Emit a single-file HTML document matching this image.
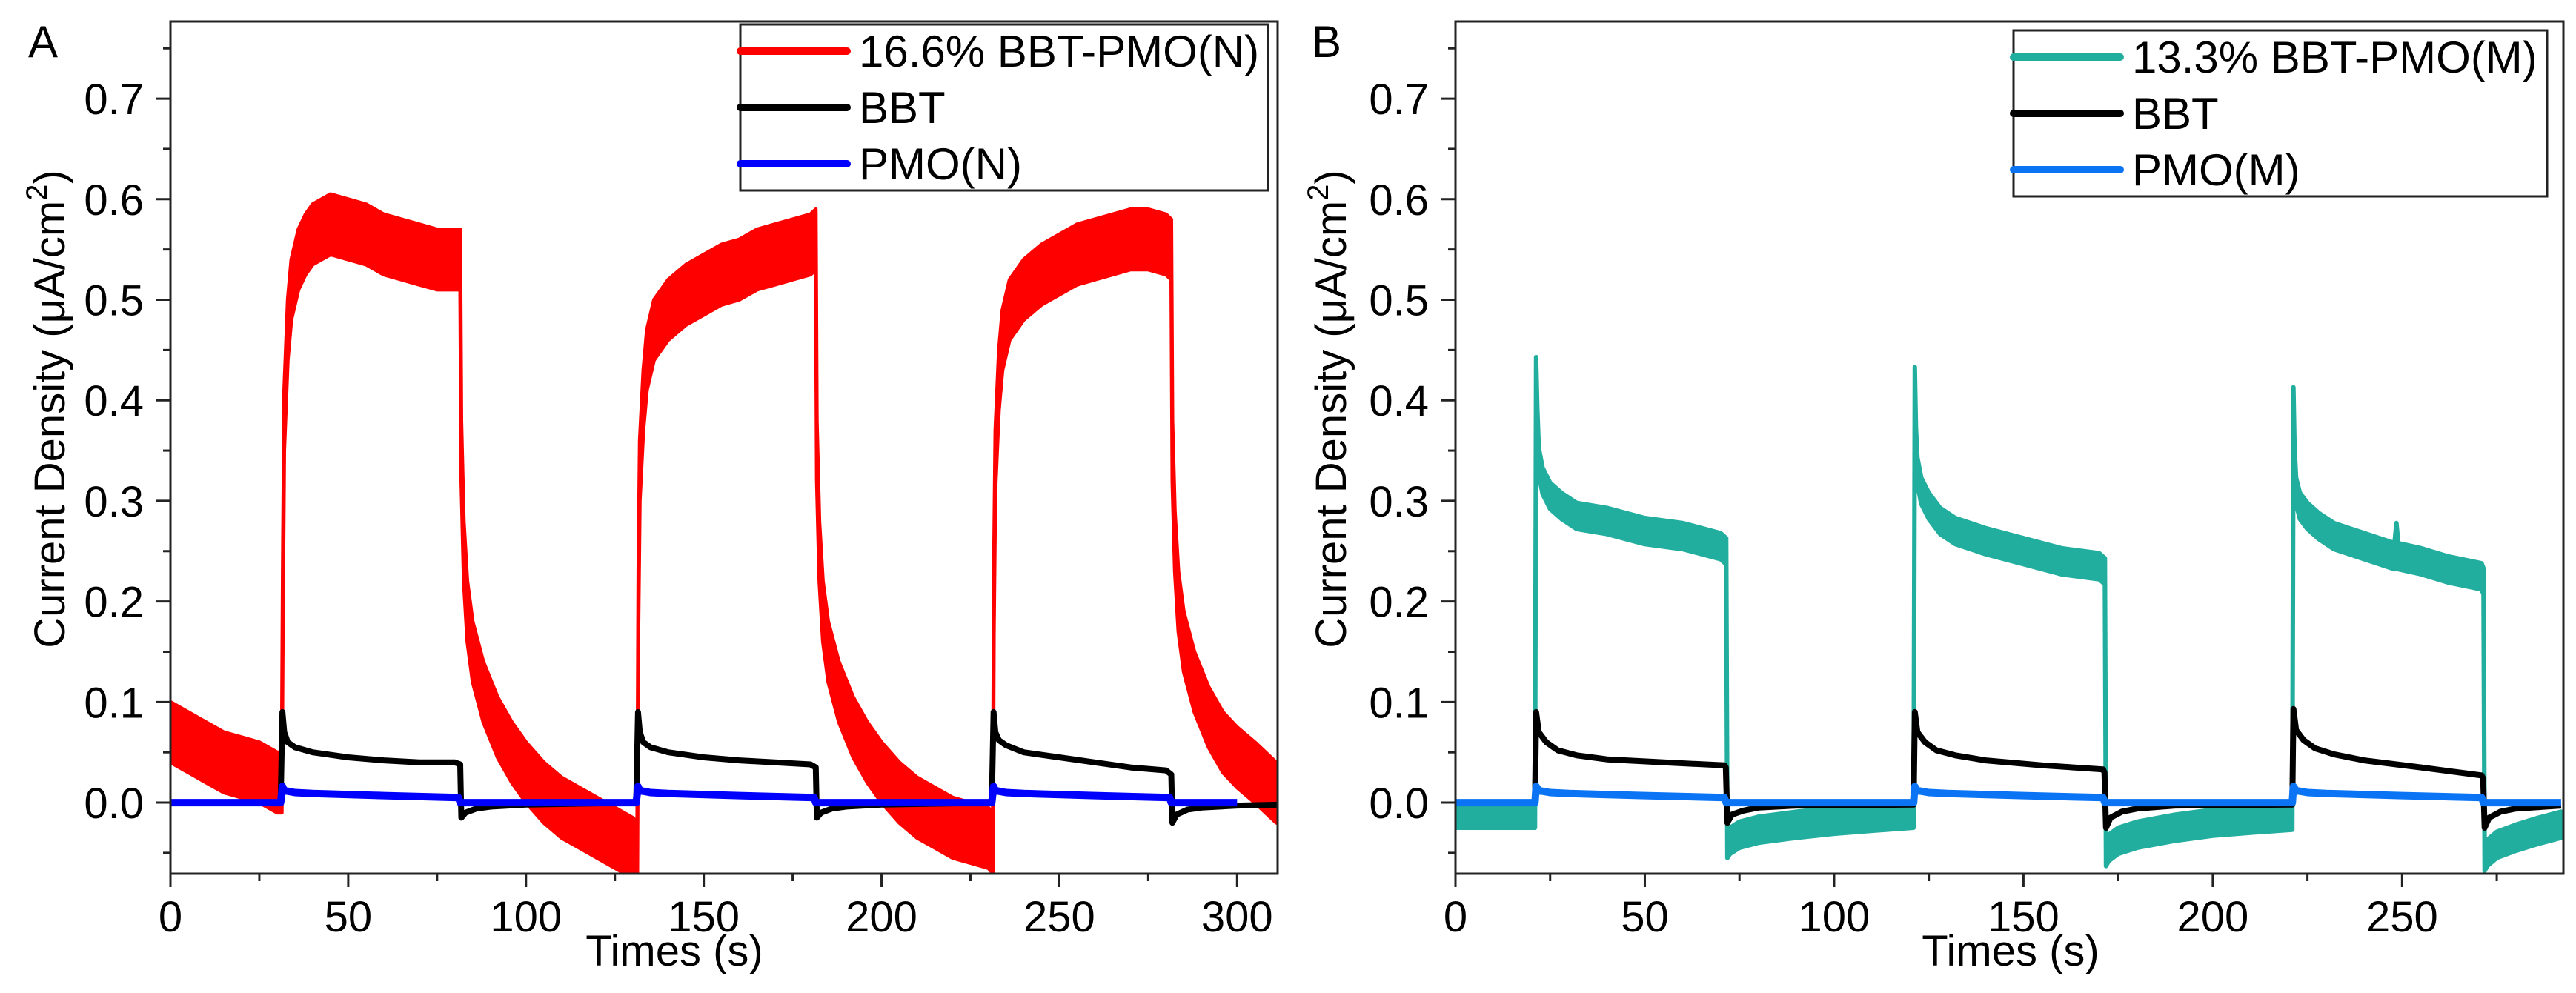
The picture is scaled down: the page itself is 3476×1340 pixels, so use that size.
<!DOCTYPE html>
<html><head><meta charset="utf-8"><style>
html,body{margin:0;padding:0;background:#fff;}
svg{display:block;font-family:"Liberation Sans",Arial,sans-serif;}
</style></head><body>
<svg id="chart" width="3476" height="1340" viewBox="0 0 3476 1340" xmlns="http://www.w3.org/2000/svg">
<rect x="0" y="0" width="3476" height="1340" fill="#fff"/>
<g id="panelA"></g>
<g id="panelB"></g>
</svg>
<script>
// ---------- Panel A data ----------
const redT=[0,5,10,15,20,25,30,31.3,
31.6,32,33,34,36,38,40,45,50,55,60,65,70,75,80,81.5,
81.8,82.5,83.5,85,88,92,96,100,105,110,115,120,125,130,131.3,
131.6,132,133,134,136,140,145,150,155,160,165,170,175,180,181.5,
181.8,182.5,183.5,185,188,192,196,200,205,210,215,220,225,230,231.3,
231.6,232,233,234,236,240,245,250,255,260,265,270,275,280,281.5,
281.8,282.5,283.5,285,288,292,296,300,305,311];
const redV=[0.07,0.06,0.05,0.04,0.035,0.03,0.02,0.02,
0.2,0.38,0.47,0.51,0.54,0.555,0.565,0.575,0.57,0.565,0.555,0.55,0.545,0.54,0.54,0.54,
0.35,0.25,0.19,0.15,0.11,0.075,0.05,0.03,0.01,-0.005,-0.015,-0.025,-0.035,-0.045,-0.05,
0.2,0.33,0.4,0.44,0.47,0.49,0.505,0.515,0.525,0.53,0.54,0.545,0.55,0.555,0.56,
0.35,0.25,0.19,0.15,0.11,0.075,0.05,0.03,0.01,-0.005,-0.015,-0.025,-0.03,-0.035,-0.04,
0.2,0.34,0.42,0.46,0.49,0.51,0.525,0.535,0.545,0.55,0.555,0.56,0.56,0.555,0.55,
0.35,0.26,0.2,0.16,0.12,0.085,0.06,0.045,0.03,0.01];
const redNoise=0.03;
const bbtAT=[0,31,31.5,32,33,35,40,50,60,70,80,81.5,81.8,83,86,90,100,131,131.5,132,133,135,140,150,160,170,180,181.5,181.8,183,186,190,200,231,231.5,232,233,235,240,250,260,270,280,281.5,281.8,283,286,290,300,312];
const bbtAV=[0,0,0.09,0.07,0.06,0.055,0.05,0.045,0.042,0.04,0.04,0.038,-0.015,-0.01,-0.006,-0.004,-0.002,0,0.09,0.07,0.06,0.055,0.05,0.045,0.042,0.04,0.038,0.035,-0.015,-0.01,-0.006,-0.004,-0.002,0,0.09,0.07,0.062,0.057,0.05,0.045,0.04,0.035,0.032,0.028,-0.02,-0.012,-0.007,-0.005,-0.003,-0.002];
const pmoNT=[0,31,31.5,32,35,40,60,81,81.5,131,131.5,132,135,140,160,181,181.5,231,231.5,232,235,240,260,281,281.5,300];
const pmoNV=[0,0,0.016,0.012,0.01,0.009,0.007,0.005,0,0,0.016,0.012,0.01,0.009,0.007,0.005,0,0,0.016,0.012,0.01,0.009,0.007,0.005,0,0];
// ---------- Panel B data ----------
const tealT=[0,21,21.3,21.6,22,23,25,28,32,40,50,60,70,71.5,71.8,72.5,75,80,90,100,110,121,121.3,121.6,122,123,125,128,132,140,150,160,170,171.5,171.8,172.5,175,180,190,200,210,221,221.3,221.6,222,223,225,228,232,240,248,248.5,249,255,262,271,271.5,271.8,272.5,275,280,286,292];
const tealV=[-0.012,-0.012,
0.43,0.38,0.34,0.32,0.305,0.295,0.285,0.28,0.27,0.265,0.255,0.25,
-0.042,-0.038,-0.032,-0.027,-0.022,-0.018,-0.015,-0.012,
0.42,0.36,0.33,0.31,0.295,0.28,0.27,0.26,0.25,0.24,0.235,0.23,
-0.05,-0.045,-0.038,-0.032,-0.025,-0.02,-0.017,-0.014,
0.40,0.34,0.31,0.295,0.285,0.275,0.265,0.255,0.245,0.265,0.245,0.24,0.232,0.225,0.22,
-0.055,-0.05,-0.042,-0.035,-0.028,-0.022];
const tealNoise=0.013;
const bbtBT=[0,21,21.3,22,24,27,32,40,55,71,71.4,71.8,73,76,80,90,121,121.3,122,124,127,132,140,155,171,171.4,171.8,173,176,180,190,221,221.3,222,224,227,232,240,255,271,271.4,271.8,273,276,280,292];
const bbtBV=[0,0,0.09,0.07,0.06,0.052,0.047,0.043,0.04,0.037,0.035,-0.02,-0.012,-0.008,-0.005,-0.003,-0.002,0.09,0.07,0.06,0.052,0.047,0.042,0.037,0.033,0.03,-0.025,-0.015,-0.009,-0.006,-0.003,-0.002,0.093,0.072,0.062,0.054,0.048,0.042,0.035,0.027,0.024,-0.025,-0.015,-0.009,-0.006,-0.003];
const pmoMT=[0,21,21.3,22,25,30,50,71,71.5,121,121.3,122,125,130,150,171,171.5,221,221.3,222,225,230,250,271,271.5,292];
const pmoMV=[0,0,0.016,0.012,0.01,0.009,0.007,0.005,0,0,0.016,0.012,0.01,0.009,0.007,0.005,0,0,0.016,0.012,0.01,0.009,0.007,0.005,0,0];
const yTicks=[0,0.1,0.2,0.3,0.4,0.5,0.6,0.7];
const yTickLabels=["0.0","0.1","0.2","0.3","0.4","0.5","0.6","0.7"];
const xTicksA=[0,50,100,150,200,250,300];
const xTicksB=[0,50,100,150,200,250];

const NS="http://www.w3.org/2000/svg";
function mk(parent,tag,attrs){const e=document.createElementNS(NS,tag);for(const k in attrs)e.setAttribute(k,attrs[k]);parent.appendChild(e);return e;}

function drawPanel(g,cfg){
  const L=cfg.left,R=cfg.right,T=29,B=1179;
  const sx=t=>L+(t-cfg.x0)*(R-L)/(cfg.x1-cfg.x0);
  const sy=v=>B-(v-cfg.y0)*(B-T)/(cfg.y1-cfg.y0);
  const clip="clip"+cfg.id;
  const cp=mk(g,"clipPath",{id:clip});
  mk(cp,"rect",{x:L,y:T,width:R-L,height:B-T});
  const sg=mk(g,"g",{"clip-path":"url(#"+clip+")"});
  
  
  cfg.series.forEach(s=>{
    let d;
    if(s.noise){
      const up=s.T.map((t,i)=>sx(t).toFixed(1)+","+sy(s.V[i]+s.noise).toFixed(1));
      const lo=s.T.map((t,i)=>sx(t).toFixed(1)+","+sy(s.V[i]-s.noise).toFixed(1)).reverse();
      d="M"+up.join("L")+"L"+lo.join("L")+"Z";
      const p=mk(sg,"path",{d:d,fill:s.color,stroke:s.color,"stroke-width":s.w,"stroke-linejoin":"round"});
      
      
    }else{
      d="M"+s.T.map((t,i)=>sx(t).toFixed(1)+","+sy(s.V[i]).toFixed(1)).join("L");
      const p=mk(sg,"path",{d:d,fill:"none",stroke:s.color,"stroke-width":s.w,"stroke-linejoin":"round"});
      
      
    }
  });
  const fr=mk(g,"rect",{x:L,y:T,width:R-L,height:B-T,fill:"none",stroke:"#222","stroke-width":3});
  
  
  for(let v=-0.05;v<=0.76;v+=0.05){
    const vv=Math.round(v*100)/100;
    const major=Math.abs(vv*10-Math.round(vv*10))<1e-6;
    const tk=mk(g,"line",{x1:L-(major?20:10),x2:L,y1:sy(vv),y2:sy(vv),stroke:"#222","stroke-width":3});
    
    
  }
  yTicks.forEach((v,i)=>{
    const t=mk(g,"text",{x:L-36,y:sy(v)+21,"font-size":58,"text-anchor":"end",fill:"#000"});
    t.textContent=yTickLabels[i];
    
    
  });
  for(let t=0;t<=cfg.x1;t+=25){
    const major=t%50===0;
    const tk=mk(g,"line",{x1:sx(t),x2:sx(t),y1:B,y2:B+(major?18:10),stroke:"#222","stroke-width":3});
    
    
  }
  cfg.xTicks.forEach(t=>{
    const e=mk(g,"text",{x:sx(t),y:1257,"font-size":58,"text-anchor":"middle",fill:"#000"});
    e.textContent=String(t);
    
    
  });
  const xt=mk(g,"text",{x:cfg.xTitleX,y:1303,"font-size":58,"text-anchor":"middle",fill:"#000"});
  xt.textContent="Times (s)";
  
  
  const yt=mk(g,"text",{x:0,y:0,"font-size":58,"text-anchor":"middle",fill:"#000",transform:"translate("+(cfg.yTitleX+21)+",552) rotate(-90)"});
  
  
  yt.appendChild(document.createTextNode("Current Density (μA/cm"));
  const sup=mk(yt,"tspan",{"font-size":40,dy:-24});sup.textContent="2";
  const cl=mk(yt,"tspan",{dy:24});cl.textContent=")";
  const pl=mk(g,"text",{x:cfg.letterX,y:77,"font-size":60,fill:"#000"});
  pl.textContent=cfg.letter;
  
  
  const lg=mk(g,"g",{});
  
  
  const lb=cfg.legend;
  mk(lg,"rect",{x:lb.x,y:lb.y,width:lb.w,height:224,fill:"#fff",stroke:"#222","stroke-width":3});
  cfg.series.forEach((s,i)=>{
    const yy=lb.y+36+i*76;
    const en=mk(lg,"g",{});
    
    
    mk(en,"line",{x1:lb.x,x2:lb.x+144,y1:yy,y2:yy,stroke:s.color,"stroke-width":10,"stroke-linecap":"round"});
    const tx=mk(en,"text",{x:lb.x+160,y:yy+21,"font-size":60,fill:"#000"});
    tx.textContent=s.label;
  });
}

drawPanel(document.getElementById("panelA"),{
  id:"A",left:230,right:1724,x0:0,x1:311.4,y0:-0.0707,y1:0.7767,xTicks:xTicksA,
  xTitleX:910,yTitleX:66,letter:"A",letterX:38,legend:{x:999,y:33,w:712},
  series:[
    {name:"series-bbt-pmo-n",label:"16.6% BBT-PMO(N)",T:redT,V:redV,noise:redNoise,color:"#ff0000",w:5},
    {name:"series-bbt-a",label:"BBT",T:bbtAT,V:bbtAV,color:"#000000",w:8},
    {name:"series-pmo-n",label:"PMO(N)",T:pmoNT,V:pmoNV,color:"#0000ff",w:10}
  ]});
drawPanel(document.getElementById("panelB"),{
  id:"B",left:1964,right:3459,x0:0,x1:292.6,y0:-0.0707,y1:0.7767,xTicks:xTicksB,
  xTitleX:2713,yTitleX:1795,letter:"B",letterX:1770,legend:{x:2717,y:41,w:720},
  series:[
    {name:"series-bbt-pmo-m",label:"13.3% BBT-PMO(M)",T:tealT,V:tealV,noise:tealNoise,color:"#22ae9e",w:6},
    {name:"series-bbt-b",label:"BBT",T:bbtBT,V:bbtBV,color:"#000000",w:8},
    {name:"series-pmo-m",label:"PMO(M)",T:pmoMT,V:pmoMV,color:"#0a74f5",w:10}
  ]});
</script>
</body></html>
